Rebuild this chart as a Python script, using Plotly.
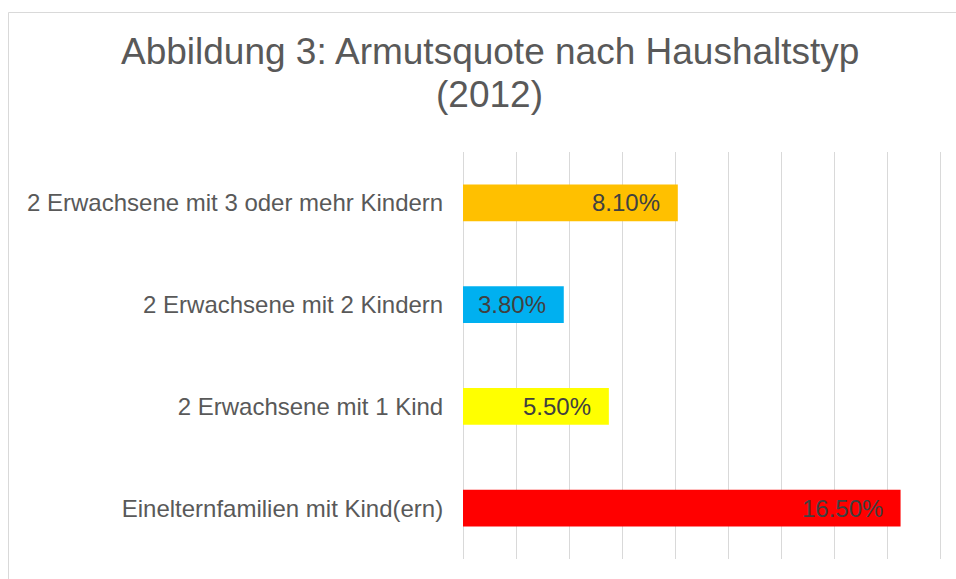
import plotly.graph_objects as go

categories = [
    "2 Erwachsene mit 3 oder mehr Kindern",
    "2 Erwachsene mit 2 Kindern",
    "2 Erwachsene mit 1 Kind",
    "Einelternfamilien mit Kind(ern)",
]
values = [8.1, 3.8, 5.5, 16.5]
bar_colors = ["#FFC000", "#00B0F0", "#FFFF00", "#FF0000"]
title_line1 = "Abbildung 3: Armutsquote nach Haushaltstyp"
title_line2 = "(2012)"

W, H = 956, 579
ML, MR, MT, MB = 463, 13, 152, 20
PW = W - ML - MR
PH = H - MT - MB

def px_x(x):
    return (x - ML) / PW

def px_y(y):
    return 1 - (y - MT) / PH

font_family = "Liberation Sans, Arial, sans-serif"

fig = go.Figure()
fig.add_trace(go.Bar(
    x=values,
    y=categories,
    orientation="h",
    marker=dict(color=bar_colors, line=dict(width=0)),
    hoverinfo="skip",
))

annotations = []
for v, c in zip(values, categories):
    annotations.append(dict(
        x=v, y=c, xref="x", yref="y",
        text=f"{v:.2f}%",
        showarrow=False, xanchor="right", yanchor="middle",
        xshift=-16,
        font=dict(family=font_family, size=24, color="#404040"),
    ))

annotations.append(dict(
    x=px_x(489.5), y=px_y(52), xref="paper", yref="paper",
    text=title_line1, showarrow=False, xanchor="center", yanchor="middle",
    font=dict(family=font_family, size=37, color="#595959"),
))
annotations.append(dict(
    x=px_x(489.5), y=px_y(95), xref="paper", yref="paper",
    text=title_line2, showarrow=False, xanchor="center", yanchor="middle",
    font=dict(family=font_family, size=37, color="#595959"),
))

fig.update_layout(
    width=W, height=H, autosize=False,
    margin=dict(l=ML, r=MR, t=MT, b=MB, pad=0),
    paper_bgcolor="white", plot_bgcolor="white",
    showlegend=False,
    bargap=0.64,
    annotations=annotations,
    font=dict(family=font_family, color="#595959"),
    shapes=[dict(
        type="rect", xref="paper", yref="paper",
        x0=px_x(8.5), x1=px_x(1200), y0=px_y(900), y1=px_y(12.5),
        line=dict(color="#D9D9D9", width=1), fillcolor="rgba(0,0,0,0)",
        layer="below",
    )],
)

fig.update_xaxes(
    range=[0, 18.1], dtick=2, tick0=0,
    showgrid=True, gridcolor="#D9D9D9", gridwidth=1.3,
    zeroline=True, zerolinecolor="#D9D9D9", zerolinewidth=1.3,
    showticklabels=False, showline=False, ticks="",
    fixedrange=True,
)
fig.update_yaxes(
    categoryorder="array", categoryarray=categories,
    autorange="reversed",
    showgrid=False, zeroline=False, showline=False,
    ticks="outside", ticklen=14, tickcolor="rgba(0,0,0,0)",
    tickfont=dict(family=font_family, size=24, color="#595959"),
    fixedrange=True,
)

fig.write_html("out.html", config=dict(displayModeBar=False))
